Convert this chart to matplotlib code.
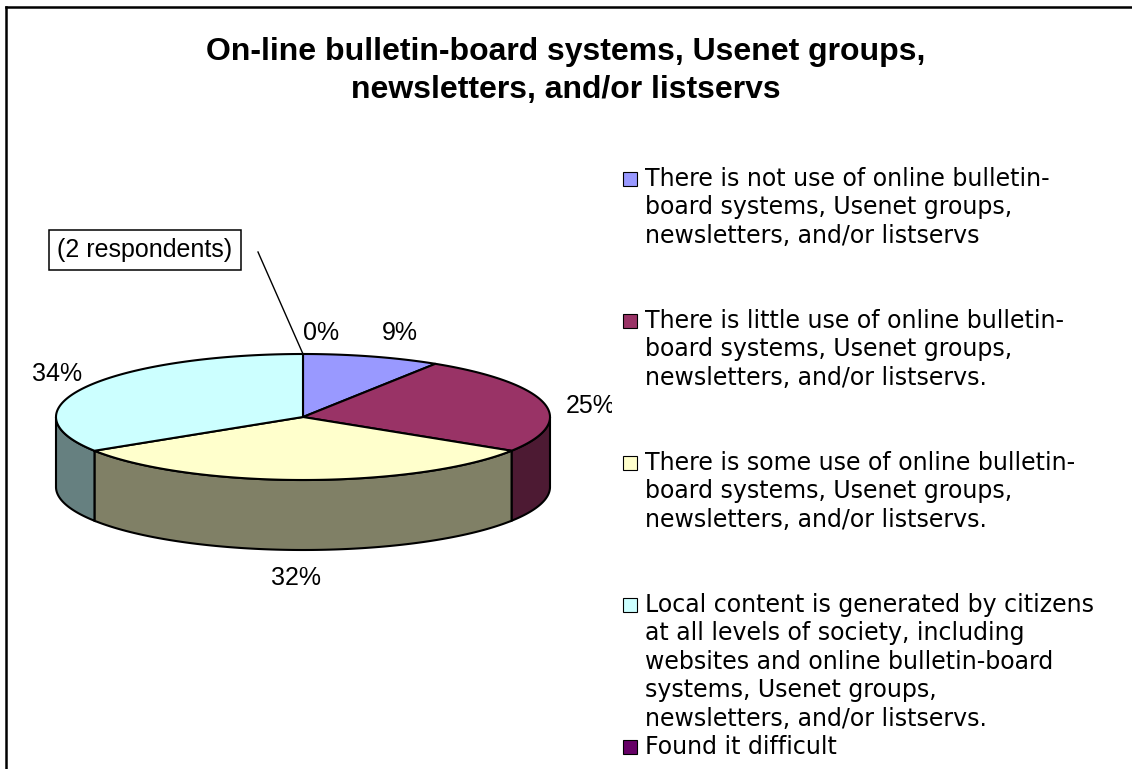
import numpy as np
import matplotlib.pyplot as plt
from matplotlib.colors import to_rgb
from matplotlib.patches import Polygon, Rectangle

# Survey answers, in pie order (clockwise from 12 o'clock)
answers = [
    'There is not use of online bulletin-\nboard systems, Usenet groups,\nnewsletters, and/or listservs',
    'There is little use of online bulletin-\nboard systems, Usenet groups,\nnewsletters, and/or listservs.',
    'There is some use of online bulletin-\nboard systems, Usenet groups,\nnewsletters, and/or listservs.',
    'Local content is generated by citizens\nat all levels of society, including\nwebsites and online bulletin-board\nsystems, Usenet groups,\nnewsletters, and/or listservs.',
    'Found it difficult',
]
shares = [9, 25, 32, 34, 0]
colors = ['#9999FF', '#993366', '#FFFFCC', '#CCFFFF', '#660066']
note = '(2 respondents)'
title = 'On-line bulletin-board systems, Usenet groups,\nnewsletters, and/or listservs'

W, H = 1132, 769
fig = plt.figure(figsize=(W / 100, H / 100), dpi=100)

# full-figure axes in pixel units for title, legend and frame
axf = fig.add_axes([0, 0, 1, 1])
axf.set_xlim(0, W)
axf.set_ylim(H, 0)
axf.axis('off')

# pie axes, clipped at the plot area's right edge
PLOT_R = 612
ax = fig.add_axes([0, 0, PLOT_R / W, 1])
ax.set_xlim(0, PLOT_R)
ax.set_ylim(H, 0)
ax.axis('off')

cx, cy, rx, ry, depth = 303, 417, 247, 63, 70


def rim(t):
    return np.column_stack([cx + rx * np.cos(t), cy - ry * np.sin(t)])


fr = np.array(shares, float) / sum(shares)
edges = np.pi / 2 - 2 * np.pi * np.concatenate([[0], np.cumsum(fr)])

for i, c in enumerate(colors):
    a0, a1 = edges[i], edges[i + 1]
    if a0 - a1 <= 0:
        continue
    # side wall, only the front half (angles between -pi and 0)
    lo, hi = max(a1, -np.pi), min(a0, 0)
    if hi > lo:
        t = np.linspace(hi, lo, 120)
        top = rim(t)
        bot = top + [0, depth]
        dark = tuple(0.5 * v for v in to_rgb(c))
        ax.add_patch(Polygon(np.vstack([top, bot[::-1]]), closed=True,
                             fc=dark, ec='black', lw=1.5, zorder=1))
    t = np.linspace(a0, a1, 200)
    pts = np.vstack([[cx, cy], rim(t)])
    ax.add_patch(Polygon(pts, closed=True, fc=c, ec='black', lw=1.5, zorder=2))

# percentage labels
pct_pos = [(400, 333), (566, 406), (296, 578), (57, 374), (321, 333)]
for (x, y), v in zip(pct_pos, shares):
    ha = 'left' if x > 550 else 'center'
    ax.text(x, y, f'{v}%', ha=ha, va='center', fontsize=18,
            family='Liberation Sans', clip_on=True, zorder=5)

# callout for the empty slice
ax.text(145, 250, note, ha='center', va='center', fontsize=18,
        family='Liberation Sans', zorder=5,
        bbox=dict(boxstyle='square,pad=0.32', fc='white', ec='black', lw=1.1))
ax.plot([258, 303], [252, 354], color='black', lw=1, zorder=4)

# title
axf.text(566, 71, title, ha='center', va='center', fontsize=23,
         fontweight='bold', family='Liberation Sans', linespacing=1.32)

# legend
L = 28.4
starts = [179, 321, 463, 605, 747]
for y0, lab, c in zip(starts, answers, colors):
    axf.add_patch(Rectangle((623, y0 - 7), 14, 14, fc=c, ec='black', lw=0.8))
    for k, line in enumerate(lab.split('\n')):
        axf.text(645, y0 + k * L, line, ha='left', va='center', fontsize=17,
                 family='DejaVu Sans')

# chart frame (top and left edges)
axf.plot([5.5, 5.5], [H, 6.5], color='black', lw=1.8, clip_on=False)
axf.plot([5.5, W], [6.5, 6.5], color='black', lw=1.8, clip_on=False)

fig.savefig('out.png', dpi=100)
